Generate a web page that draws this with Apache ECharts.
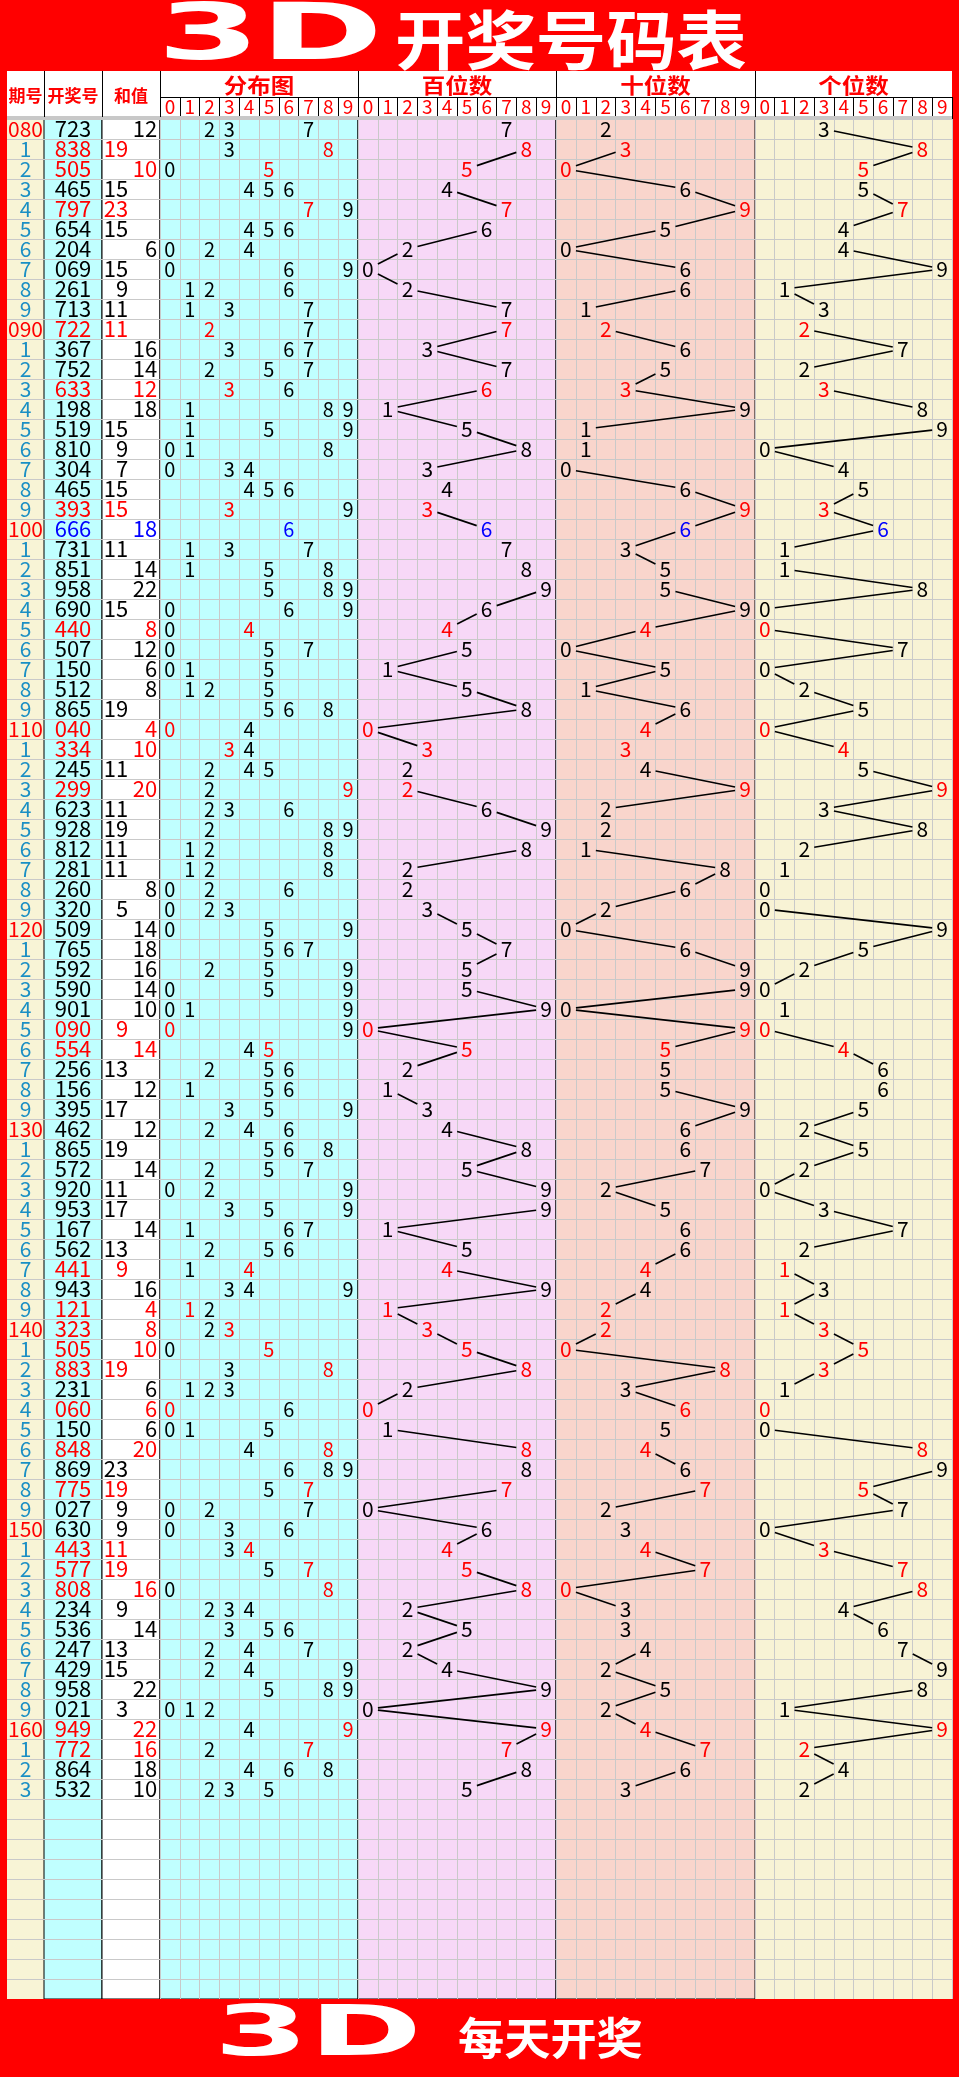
<!DOCTYPE html>
<html><head><meta charset="utf-8">
<script src="https://cdn.jsdelivr.net/npm/echarts@6/dist/echarts.min.js"></script>
<style>html,body{margin:0;padding:0;background:#ff0000}#c{width:959px;height:2077px}</style>
</head><body><div id="c"></div>
<script>
// ---- data ----
const periods = ['080','1','2','3','4','5','6','7','8','9',
'090','1','2','3','4','5','6','7','8','9',
'100','1','2','3','4','5','6','7','8','9',
'110','1','2','3','4','5','6','7','8','9',
'120','1','2','3','4','5','6','7','8','9',
'130','1','2','3','4','5','6','7','8','9',
'140','1','2','3','4','5','6','7','8','9',
'150','1','2','3','4','5','6','7','8','9',
'160','1','2','3'];
const draws = ['723','838','505','465','797','654','204','069','261','713',
'722','367','752','633','198','519','810','304','465','393',
'666','731','851','958','690','440','507','150','512','865',
'040','334','245','299','623','928','812','281','260','320',
'509','765','592','590','901','090','554','256','156','395',
'462','865','572','920','953','167','562','441','943','121',
'323','505','883','231','060','150','848','869','775','027',
'630','443','577','808','234','536','247','429','958','021',
'949','772','864','532'];
const sums = [12,19,10,15,23,15,6,15,9,11,
11,16,14,12,18,15,9,7,15,15,
18,11,14,22,15,8,12,6,8,19,
4,10,11,20,11,19,11,11,8,5,
14,18,16,14,10,9,14,13,12,17,
12,19,14,11,17,14,13,9,16,4,
8,10,19,6,6,6,20,23,19,9,
9,11,19,16,9,14,13,15,22,3,
22,16,18,10];
const digitLabels = ['0','1','2','3','4','5','6','7','8','9'];
const emptyRows = 10;
const columnTitles = ['期号','开奖号','和值'];
const panelTitles = ['分布图','百位数','十位数','个位数'];
const titleMain = ['3D','开奖号码表'];
const titleFoot = ['3D','每天开奖'];

// ---- styling ----
const RED = '#ff0000', TEAL = '#1b8fc4', BLUE = '#0000ff', BLACK = '#000000';
const NUMF = '"Noto Sans CJK SC", "Noto Sans", sans-serif';
const CJKF = '"Noto Sans CJK SC", sans-serif';
const rowCount = draws.length + emptyRows;
const TOP = 119, H = 1880;
const cols = [[7,37],[44,58],[102,58],[160,198],[358,198],[556,199],[755,197]];
const gridBg = ['#f8f4d6','#c0ffff','#ffffff','#c0ffff','#f7d8f7','#f9d5cc','#f8f3d5'];
const GRIDLINE = '#c9c9c9';

function kind(s){
  if (s[0]===s[1] && s[1]===s[2]) return 'triple';
  if (s[0]===s[1] || s[1]===s[2] || s[0]===s[2]) return 'pair';
  return 'single';
}
function drawColor(s){ const k = kind(s); return k==='triple'?BLUE:(k==='pair'?RED:BLACK); }
function repeated(s){ return s[0]===s[1]?s[0]:(s[1]===s[2]?s[1]:(s[0]===s[2]?s[0]:null)); }
function textEl(x,y,text,fill,size,align){
  return {type:'text', x:x, y:y, style:{text:text, fill:fill, font:size+'px '+NUMF,
    align:align||'center', verticalAlign:'middle', textAlign:align||'center', textVerticalAlign:'middle'}};
}

const grid = cols.map((c,i)=>({left:c[0], top:TOP, width:c[1], height:H, show:true,
  backgroundColor:gridBg[i], borderColor:(i===0||i===6)?'rgba(0,0,0,0)':'#000', borderWidth:(i===0||i===6)?0:1,
  containLabel:false, outerBoundsMode:'none'}));
const yAxis = cols.map((c,i)=>({type:'value', gridIndex:i, min:0, max:rowCount, interval:1, inverse:true,
  axisLine:{show:false}, axisTick:{show:false}, axisLabel:{show:false},
  splitLine:{show:true, lineStyle:{color:GRIDLINE, width:1}}}));
const xAxis = cols.map((c,i)=> i<3 ? {type:'value', gridIndex:i, min:0, max:1, show:false} : {
  type:'category', gridIndex:i, data:digitLabels, position:'top', boundaryGap:true,
  axisLine:{show:false},
  axisTick:{show:true, interval:0, length:22, lineStyle:{color:'#000', width:1}},
  axisLabel:{interval:0, color:RED, fontSize:19, margin:3, fontFamily:NUMF},
  splitLine:{show:true, interval:0, lineStyle:{color:GRIDLINE, width:1}}
});

const series = [];
// 期号
series.push({type:'custom', xAxisIndex:0, yAxisIndex:0, z:3,
  data: periods.map((p,i)=>[0.5, i+0.5]),
  renderItem:(params,api)=>{
    const pt = api.coord([api.value(0), api.value(1)]);
    const s = periods[params.dataIndex];
    return textEl(pt[0], pt[1], s, s.length===3?RED:TEAL, 21);
  }});
// 开奖号
series.push({type:'custom', xAxisIndex:1, yAxisIndex:1, z:3,
  data: draws.map((d,i)=>[0.5, i+0.5]),
  renderItem:(params,api)=>{
    const pt = api.coord([api.value(0), api.value(1)]);
    const s = draws[params.dataIndex];
    return textEl(pt[0], pt[1], s, drawColor(s), 22);
  }});
// 和值
series.push({type:'custom', xAxisIndex:2, yAxisIndex:2, z:3,
  data: sums.map((v,i)=>[0, i+0.5]),
  renderItem:(params,api)=>{
    const i = params.dataIndex;
    const pt = api.coord([0, api.value(1)]);
    const w = api.size([1,0])[0];
    const v = sums[i];
    const x = pt[0] + w*(v%2===1 ? 0.45 : 0.95);
    return textEl(x, pt[1], String(v), drawColor(draws[i]), 22, 'right');
  }});
// 分布图
const distData = [];
draws.forEach((s,i)=>{
  const rep = repeated(s); const k = kind(s);
  Array.from(new Set(s.split(''))).forEach(ch=>{
    const col = k==='triple'?BLUE:(ch===rep?RED:BLACK);
    distData.push([+ch, i+0.5, col]);
  });
});
series.push({type:'custom', xAxisIndex:3, yAxisIndex:3, z:3,
  data: distData.map(d=>[d[0], d[1]]),
  renderItem:(params,api)=>{
    const pt = api.coord([api.value(0), api.value(1)]);
    const d = distData[params.dataIndex];
    return textEl(pt[0], pt[1], String(d[0]), d[2], 20);
  }});
// 百位/十位/个位 trend
const HW = 10, HH = 10;
[0,1,2].forEach(p=>{
  const vals = draws.map(d=>+d[p]);
  series.push({type:'custom', xAxisIndex:4+p, yAxisIndex:4+p, z:3,
    data: vals.map((v,i)=>[v, i+0.5]),
    renderItem:(params,api)=>{
      const i = params.dataIndex;
      const pt = api.coord([api.value(0), api.value(1)]);
      const children = [];
      if (i>0){
        const q = api.coord([vals[i-1], i-0.5]);
        const dx = pt[0]-q[0], dy = pt[1]-q[1];
        const t = Math.min(dx ? HW/Math.abs(dx) : Infinity, dy ? HH/Math.abs(dy) : Infinity);
        if (t < 0.49){
          children.push({type:'line', shape:{x1:q[0]+dx*t, y1:q[1]+dy*t, x2:pt[0]-dx*t, y2:pt[1]-dy*t},
            style:{stroke:'#000', lineWidth:1.6}});
        }
      }
      children.push(textEl(pt[0], pt[1], String(vals[i]), drawColor(draws[i]), 21));
      return {type:'group', children:children};
    }});
});

// header / title decoration
const seps = [44,102,160,358,556,755];
const graphic = [
  {type:'rect', z:-1, shape:{x:7,y:71,width:945,height:47}, style:{fill:'#ffffff'}},
  {type:'rect', z:100, shape:{x:7,y:116,width:945,height:3.5}, style:{fill:'#c8c8c8'}},
  {type:'line', z:100, shape:{x1:160,y1:97.5,x2:952,y2:97.5}, style:{stroke:'#000', lineWidth:1}},
  {type:'rect', z:100, shape:{x:0,y:1999,width:959,height:78}, style:{fill:RED}},
  {type:'text', z:101, x:270, y:39, scaleX:1.9, style:{text:titleMain[0], fill:'#fff', font:'bold 78px "DejaVu Sans"', align:'center', verticalAlign:'middle'}},
  {type:'text', z:101, x:395, y:40, scaleX:1.1, style:{text:titleMain[1], fill:'#fff', font:'bold 64px '+CJKF, align:'left', verticalAlign:'middle'}},
  {type:'text', z:101, x:318, y:2037, scaleX:1.95, style:{text:titleFoot[0], fill:'#fff', font:'bold 70px "DejaVu Sans"', align:'center', verticalAlign:'middle'}},
  {type:'text', z:101, x:458, y:2038, scaleX:1.05, style:{text:titleFoot[1], fill:'#fff', font:'bold 44px '+CJKF, align:'left', verticalAlign:'middle'}}
];
seps.forEach(x=>graphic.push({type:'line', z:100, shape:{x1:x+0.5,y1:71,x2:x+0.5,y2:117}, style:{stroke:'#000', lineWidth:1}}));
const colCenters = [25.5, 73, 131];
columnTitles.forEach((t,i)=>graphic.push({type:'text', z:101, x:colCenters[i], y:96,
  style:{text:t, fill:RED, font:'bold 17px '+CJKF, align:'center', verticalAlign:'middle'}}));
panelTitles.forEach((t,i)=>{
  const c = cols[3+i];
  graphic.push({type:'text', z:101, x:c[0]+c[1]/2, y:85, scaleX:1.12,
    style:{text:t, fill:RED, font:'bold 21px '+CJKF, align:'center', verticalAlign:'middle'}});
});

const chart = echarts.init(document.getElementById('c'), null, {renderer:'canvas', width:959, height:2077});
chart.setOption({
  backgroundColor: RED,
  animation: false,
  grid: grid, xAxis: xAxis, yAxis: yAxis,
  series: series,
  graphic: graphic
});
</script></body></html>
